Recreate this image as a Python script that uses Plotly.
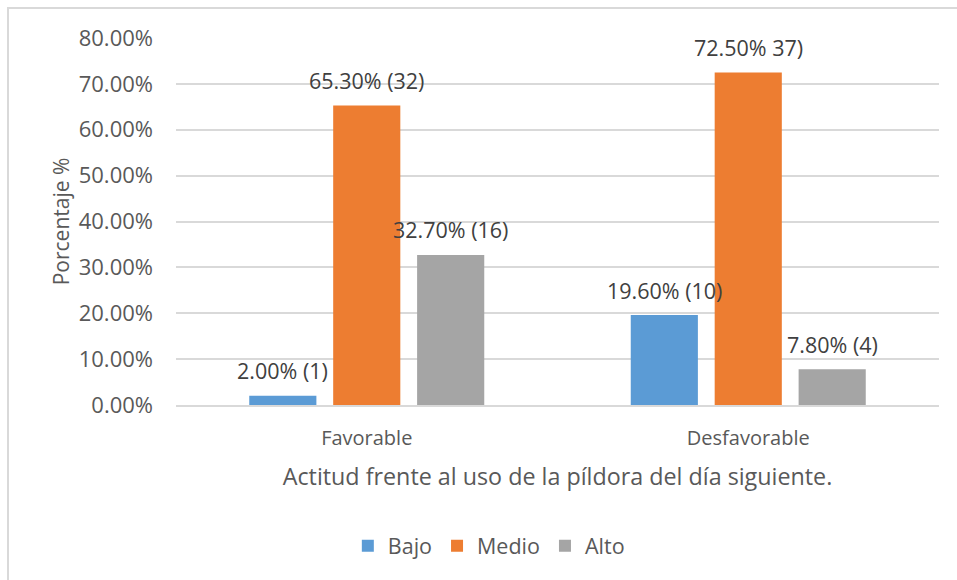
import plotly.graph_objects as go

# Attitude groups and level shares (fractions) with respondent counts
categories = ["Favorable", "Desfavorable"]
series_names = ["Bajo", "Medio", "Alto"]
bajo = [0.020, 0.196]
medio = [0.653, 0.725]
alto = [0.327, 0.078]
label_text = [
    ["2.00% (1)", "19.60% (10)"],
    ["65.30% (32)", "72.50% 37)"],
    ["32.70% (16)", "7.80% (4)"],
]
colors = ["#5B9BD5", "#ED7D31", "#A5A5A5"]
y_ticks = [0, 0.1, 0.2, 0.3, 0.4, 0.5, 0.6, 0.7, 0.8]

FONT = "Open Sans"
TXT = "#595959"
GRID = "#D9D9D9"
BARGAP = 0.34
GROUPGAP = 0.2

fig = go.Figure()
series = [bajo, medio, alto]
for name, vals, col in zip(series_names, series, colors):
    fig.add_trace(go.Bar(x=categories, y=vals, name=name, marker_color=col,
                         marker_line_width=0, hoverinfo="skip"))

# value labels above each bar, placed from the grouped-bar slot width
slot = (1 - BARGAP) / len(series)
for j, vals in enumerate(series):
    for i, v in enumerate(vals):
        fig.add_annotation(x=i + (j - 1) * slot, y=v, xref="x", yref="y",
                           text=label_text[j][i], showarrow=False,
                           yshift=25, font=dict(family=FONT, size=21.5, color="#404040"))

fig.update_layout(
    width=957, height=580,
    margin=dict(l=176, r=18, t=38, b=175),
    paper_bgcolor="white", plot_bgcolor="white",
    barmode="group", bargap=BARGAP, bargroupgap=GROUPGAP,
    font=dict(family=FONT, size=21, color=TXT),
    showlegend=True,
    legend=dict(orientation="h", x=0.41, xanchor="center", y=-0.328, yanchor="top",
                font=dict(family=FONT, size=21.5, color=TXT), itemwidth=30,
                traceorder="normal"),
    xaxis=dict(showgrid=False, showline=True, linecolor=GRID, linewidth=1.5,
               ticks="", tickfont=dict(size=20, color=TXT), automargin=False,
               ticklabelstandoff=14,
               title=dict(text="Actitud frente al uso de la píldora del día siguiente.",
                          font=dict(size=23.3, color=TXT), standoff=19)),
    yaxis=dict(range=[0, 0.8], tickvals=y_ticks, tickformat=".2%",
               showgrid=True, gridcolor=GRID, gridwidth=1.5, automargin=False,
               zeroline=False, ticks="", ticklabelstandoff=22,
               tickfont=dict(size=22, color=TXT),
               title=dict(text="Porcentaje %", font=dict(size=21, color=TXT), standoff=3)),
    shapes=[dict(type="rect", xref="paper", yref="paper",
                 x0=(8 - 176) / 763, x1=1.2, y0=-1.0, y1=1 + 30 / 367,
                 line=dict(color=GRID, width=2), layer="below")],
)

fig.write_html("out.html")
